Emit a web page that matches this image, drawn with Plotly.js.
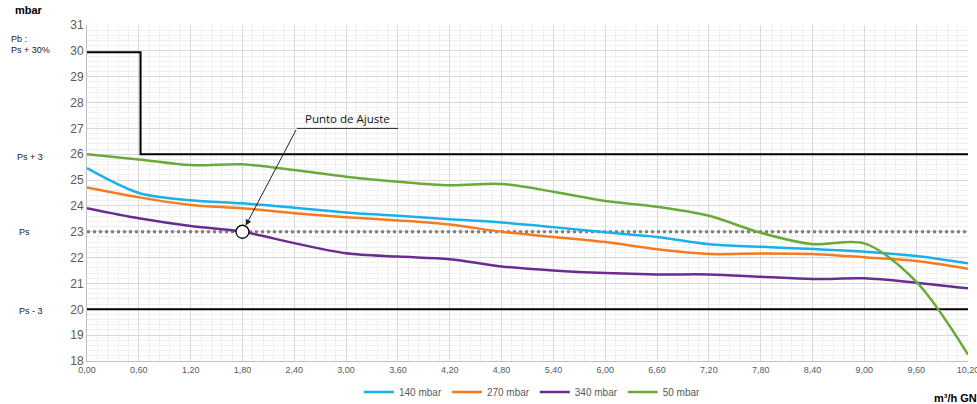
<!DOCTYPE html>
<html>
<head>
<meta charset="utf-8">
<script src="https://cdn.plot.ly/plotly-3.0.1.min.js"></script>
<style>html,body{margin:0;padding:0;background:#fff;}#chart{width:977px;height:404px;}</style>
</head>
<body>
<div id="chart"></div>
<script>
// Data
const flow = [0.0, 0.6, 1.2, 1.8, 2.4, 3.0, 3.6, 4.2, 4.8, 5.4, 6.0, 6.6, 7.2, 7.8, 8.4, 9.0, 9.6, 10.2];
const tickLabels = ["0,00","0,60","1,20","1,80","2,40","3,00","3,60","4,20","4,80","5,40","6,00","6,60","7,20","7,80","8,40","9,00","9,60","10,20"];
const p140 = [25.46, 24.5, 24.22, 24.1, 23.93, 23.75, 23.62, 23.48, 23.36, 23.18, 22.98, 22.8, 22.52, 22.42, 22.33, 22.23, 22.06, 21.78];
const p270 = [24.71, 24.33, 24.04, 23.91, 23.72, 23.56, 23.44, 23.28, 23.0, 22.8, 22.6, 22.32, 22.14, 22.16, 22.14, 22.01, 21.87, 21.57];
const p340 = [23.91, 23.52, 23.22, 23.0, 22.56, 22.17, 22.04, 21.94, 21.66, 21.5, 21.4, 21.35, 21.35, 21.26, 21.17, 21.2, 21.03, 20.81];
const p50  = [26.0, 25.8, 25.58, 25.61, 25.39, 25.13, 24.94, 24.8, 24.85, 24.55, 24.19, 23.97, 23.62, 22.96, 22.52, 22.55, 21.07, 18.25];
const seriesNames = ["140 mbar", "270 mbar", "340 mbar", "50 mbar"];
const seriesColors = ["#1ab0e8", "#f47b20", "#6a2c91", "#6aaa3a"];
const stepX = [0.0, 0.62, 0.62, 10.2];
const stepY = [29.95, 29.95, 26.0, 26.0];
const psValue = 23;
const psMinus3 = 20;
const setPoint = {x: 1.8, y: 23};
const refLabels = [
  {text: "Pb :", y: 30.45, x: -0.088},
  {text: "Ps + 30%", y: 30.05, x: -0.088},
  {text: "Ps + 3", y: 25.9, x: -0.082},
  {text: "Ps", y: 23.0, x: -0.08},
  {text: "Ps - 3", y: 19.95, x: -0.08}
];

const traces = [];
// reference lines
traces.push({x: stepX, y: stepY, mode: 'lines', line: {color: '#000', width: 2}, showlegend: false, hoverinfo: 'skip'});
traces.push({x: [flow[0], flow[flow.length-1]], y: [psValue, psValue], mode: 'lines', line: {color: '#7f7f7f', width: 3, dash: 'dot'}, showlegend: false, hoverinfo: 'skip'});
traces.push({x: [flow[0], flow[flow.length-1]], y: [psMinus3, psMinus3], mode: 'lines', line: {color: '#000', width: 2}, showlegend: false, hoverinfo: 'skip'});
const data = [p140, p270, p340, p50];
data.forEach((vals, i) => {
  traces.push({x: flow, y: vals, name: seriesNames[i], mode: 'lines',
    line: {color: seriesColors[i], width: 2.5, shape: 'spline', smoothing: 0.9}});
});
traces.push({x: [setPoint.x], y: [setPoint.y], mode: 'markers', showlegend: false, hoverinfo: 'skip',
  marker: {size: 13, color: '#fff', line: {color: '#000', width: 1.3}}});

const annotations = [];
annotations.push({xref: 'paper', yref: 'paper', x: -0.084, y: 1.045, xanchor: 'left', yanchor: 'middle',
  text: '<b>mbar</b>', showarrow: false, font: {family: 'Liberation Sans, Arial', size: 11, color: '#000'}});
refLabels.forEach(l => {
  annotations.push({xref: 'paper', yref: 'y', x: l.x, y: l.y, xanchor: 'left', yanchor: 'middle',
    text: l.text, showarrow: false, font: {family: 'Liberation Sans, Arial', size: 9, color: '#222'}});
});
annotations.push({xref: 'paper', yref: 'paper', x: 1.012, y: -0.11, xanchor: 'right', yanchor: 'middle',
  text: '<b>m³/h GN</b>', showarrow: false, font: {family: 'Liberation Sans, Arial', size: 11, color: '#000'}});
annotations.push({xref: 'x', yref: 'y', x: 3.02, y: 27.03, xanchor: 'center', yanchor: 'bottom',
  text: 'Punto de Ajuste', showarrow: false, font: {family: 'Open Sans, DejaVu Sans', size: 11.5, color: '#111'}});
annotations.push({xref: 'x', yref: 'y', axref: 'x', ayref: 'y', x: setPoint.x, y: setPoint.y, ax: 2.43, ay: 27.0,
  text: '', showarrow: true, arrowhead: 2, arrowsize: 1.2, arrowwidth: 1, arrowcolor: '#222', standoff: 7});

const layout = {
  width: 977, height: 404,
  margin: {l: 87, r: 9, t: 25, b: 43, autoexpand: false},
  paper_bgcolor: '#fff', plot_bgcolor: '#fff',
  font: {family: 'Liberation Sans, Arial', color: '#595959'},
  showlegend: true,
  legend: {orientation: 'h', xref: 'container', yref: 'container', x: 0.545, xanchor: 'center', y: 0.03, yanchor: 'middle',
    font: {size: 10, color: '#595959'}, itemwidth: 30, tracegroupgap: 0},
  xaxis: {range: [0, 10.2], tickvals: flow, ticktext: tickLabels, tickfont: {size: 9, color: '#595959'},
    ticklabeloverflow: 'allow',
    showgrid: true, gridcolor: '#d9d9d9', gridwidth: 1, zeroline: false,
    showline: true, linecolor: '#bfbfbf', linewidth: 1, ticks: '', ticklen: 0,
    minor: {dtick: 0.12, tick0: 0, showgrid: true, gridcolor: '#f0f0f0', gridwidth: 1}},
  yaxis: {range: [18, 31], dtick: 1, tick0: 18, tickfont: {size: 12, color: '#595959'},
    showgrid: true, gridcolor: '#d9d9d9', gridwidth: 1, zeroline: false,
    showline: true, linecolor: '#bfbfbf', linewidth: 1, ticks: '', ticklen: 0,
    minor: {dtick: 0.2, tick0: 18, showgrid: true, gridcolor: '#f0f0f0', gridwidth: 1}},
  shapes: [{type: 'line', xref: 'x', yref: 'y', x0: 2.43, x1: 3.6, y0: 27.0, y1: 27.0, line: {color: '#222', width: 1}}],
  annotations: annotations
};
Plotly.newPlot('chart', traces, layout, {displayModeBar: false, staticPlot: true});
</script>
</body>
</html>
